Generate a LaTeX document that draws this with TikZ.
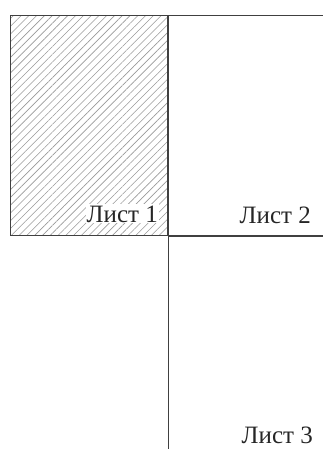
\documentclass[tikz,border=0pt]{standalone}
\usepackage{fontspec}
\setmainfont{Liberation Serif}
\usetikzlibrary{patterns.meta}

\begin{document}
\begin{tikzpicture}[
  x=1pt, y=-1pt,
  sheet/.style={draw=black!75, line width=1.5pt, anchor=north west, inner sep=0pt},
  hatched/.style={pattern={Lines[angle=45, distance=5.5pt, line width=0.6pt]}, pattern color=black!40},
  label/.style={font=\fontsize{25}{25}\selectfont, text=black!85, inner sep=1pt, anchor=base east}
]
\useasboundingbox (0,0) rectangle (323,449);
\clip (0,0) rectangle (323,449);

% Sheets
\node[sheet, hatched, minimum width=157pt, minimum height=220pt] (s1) at (10,15) {};
\node[sheet, minimum width=200pt, minimum height=220pt] (s2) at (s1.north east) {};
\node[sheet, minimum width=200pt, minimum height=240pt] (s3) at (s1.south east) {};

% Labels
\node[label, fill=white] (l1) at (159,222) {Лист 1};
\node[label] (l2) at (312,223) {Лист 2};
\node[label] (l3) at (314,443) {Лист 3};

\end{tikzpicture}
\end{document}
